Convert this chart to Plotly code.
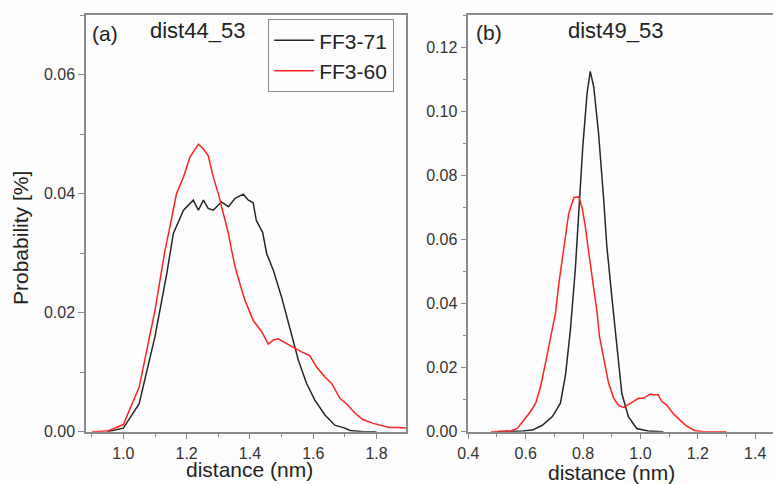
import plotly.graph_objects as go

# Panel (a) dist44_53
a_x_ff371 = [0.95, 1.0, 1.05, 1.10, 1.137, 1.158, 1.19, 1.221, 1.237, 1.253, 1.268, 1.284, 1.31, 1.332,
             1.353, 1.379, 1.395, 1.41, 1.42, 1.44, 1.453, 1.474, 1.50, 1.526, 1.553, 1.579, 1.605,
             1.637, 1.668, 1.70, 1.716, 1.76, 1.80]
a_y_ff371 = [0.0, 0.0006, 0.0047, 0.016, 0.0265, 0.0333, 0.0372, 0.0389, 0.0372, 0.0389, 0.0375, 0.0372,
             0.0386, 0.0378, 0.0392, 0.0399, 0.0389, 0.0385, 0.0355, 0.0335, 0.0299, 0.0271, 0.0226,
             0.0176, 0.012, 0.0081, 0.0053, 0.0028, 0.0011, 0.0006, 0.0002, 0.0, 0.0]

a_x_ff360 = [0.90, 0.95, 1.0, 1.05, 1.10, 1.13, 1.147, 1.168, 1.19, 1.21, 1.237, 1.253, 1.268, 1.284,
             1.30, 1.316, 1.332, 1.342, 1.353, 1.368, 1.384, 1.41, 1.437, 1.458, 1.474, 1.489, 1.516,
             1.542, 1.563, 1.589, 1.61, 1.637, 1.658, 1.684, 1.705, 1.732, 1.758, 1.789, 1.81, 1.84,
             1.87, 1.90]
a_y_ff360 = [0.0, 0.0001, 0.0012, 0.0075, 0.0204, 0.030, 0.0344, 0.040, 0.0428, 0.0461, 0.0483, 0.0475,
             0.0464, 0.0428, 0.040, 0.0366, 0.0333, 0.0305, 0.0277, 0.0249, 0.0221, 0.0187, 0.0168,
             0.0147, 0.0154, 0.0156, 0.0148, 0.014, 0.0134, 0.0128, 0.0109, 0.0092, 0.0081, 0.0056,
             0.0047, 0.0031, 0.002, 0.0014, 0.0011, 0.0007, 0.0007, 0.0006]

# Panel (b) dist49_53
b_x_ff371 = [0.50, 0.542, 0.589, 0.623, 0.658, 0.693, 0.721, 0.739, 0.756, 0.773, 0.779, 0.79, 0.799,
             0.814, 0.825, 0.837, 0.854, 0.872, 0.883, 0.90, 0.918, 0.935, 0.958, 0.987, 1.027, 1.08]
b_y_ff371 = [0.0, 0.0, 0.0002, 0.0005, 0.002, 0.0047, 0.0089, 0.0178, 0.0319, 0.0507, 0.060, 0.0754,
             0.0889, 0.1056, 0.1124, 0.1077, 0.0931, 0.0723, 0.0577, 0.0423, 0.0256, 0.012, 0.0047,
             0.001, 0.0002, 0.0]

b_x_ff360 = [0.479, 0.548, 0.571, 0.594, 0.617, 0.635, 0.652, 0.669, 0.687, 0.704, 0.716, 0.727, 0.736,
             0.75, 0.768, 0.785, 0.797, 0.808, 0.817, 0.834, 0.849, 0.857, 0.872, 0.889, 0.907, 0.924,
             0.941, 0.958, 0.975, 0.993, 1.01, 1.033, 1.045, 1.062, 1.074, 1.091, 1.114, 1.137, 1.16,
             1.19, 1.224, 1.30]
b_y_ff360 = [0.0, 0.0002, 0.001, 0.0037, 0.0063, 0.0089, 0.0141, 0.0214, 0.0298, 0.0371, 0.0465, 0.0538,
             0.060, 0.0681, 0.0731, 0.0733, 0.0697, 0.064, 0.0577, 0.0465, 0.0371, 0.0298, 0.0225,
             0.0151, 0.0104, 0.0081, 0.0076, 0.0084, 0.0094, 0.0104, 0.0104, 0.0117, 0.0115, 0.0115,
             0.0094, 0.0084, 0.0057, 0.0037, 0.0018, 0.0003, 0.0, 0.0]

series_names = ["FF3-71", "FF3-60"]
a_xticks = [1.0, 1.2, 1.4, 1.6, 1.8]
a_yticks = [0.00, 0.02, 0.04, 0.06]
b_xticks = [0.4, 0.6, 0.8, 1.0, 1.2, 1.4]
b_yticks = [0.00, 0.02, 0.04, 0.06, 0.08, 0.10, 0.12]

BLACK = "#262626"
RED = "#ff2020"
AXC = "#8a8a8a"
FONT = "Arial, Liberation Sans, sans-serif"

fig = go.Figure()
fig.add_trace(go.Scatter(x=a_x_ff371, y=a_y_ff371, mode="lines", name=series_names[0],
                         line=dict(color=BLACK, width=1.5), xaxis="x", yaxis="y"))
fig.add_trace(go.Scatter(x=a_x_ff360, y=a_y_ff360, mode="lines", name=series_names[1],
                         line=dict(color=RED, width=1.5), xaxis="x", yaxis="y"))
fig.add_trace(go.Scatter(x=b_x_ff371, y=b_y_ff371, mode="lines", showlegend=False,
                         line=dict(color=BLACK, width=1.5), xaxis="x2", yaxis="y2"))
fig.add_trace(go.Scatter(x=b_x_ff360, y=b_y_ff360, mode="lines", showlegend=False,
                         line=dict(color=RED, width=1.5), xaxis="x2", yaxis="y2"))

W, H = 773, 484
def fx(px): return px / W
def fy(py): return 1 - py / H

common = dict(showgrid=False, zeroline=False, showline=True, linecolor=AXC, linewidth=1.5,
              ticks="outside", ticklen=6, tickcolor=AXC, tickwidth=1.2, automargin=False,
              tickfont=dict(family=FONT, size=16, color="#333333"))
minor = dict(ticks="outside", ticklen=4, tickcolor=AXC, tickwidth=1.2)

fig.update_layout(
    template="none",
    width=W, height=H, margin=dict(l=0, r=0, t=0, b=0, pad=0),
    paper_bgcolor="#fdfdfd", plot_bgcolor="#fdfdfd",
    font=dict(family=FONT, color="#222222"),
    xaxis=dict(domain=[fx(86), fx(406)], range=[0.882, 1.893], anchor="y", mirror=True,
               tickvals=a_xticks, ticktext=["%.1f" % v for v in a_xticks],
               minor=dict(dtick=0.1, **minor), **common),
    yaxis=dict(domain=[fy(431.7), fy(15)], range=[0, 0.07], anchor="x", mirror=True,
               tickvals=a_yticks, ticktext=["%.2f" % v for v in a_yticks],
               minor=dict(dtick=0.01, **minor), **common),
    xaxis2=dict(domain=[fx(468.3), 1.0], range=[0.4, 1.462], anchor="y2", mirror=True,
                tickvals=b_xticks, ticktext=["%.1f" % v for v in b_xticks],
                minor=dict(dtick=0.1, **minor), **common),
    yaxis2=dict(domain=[fy(431.7), fy(15)], range=[0, 0.13], anchor="x2", mirror=False,
                tickvals=b_yticks, ticktext=["%.2f" % v for v in b_yticks],
                minor=dict(dtick=0.01, **minor), **common),
    legend=dict(x=fx(268), y=fy(19), xanchor="left", yanchor="top",
                bgcolor="rgba(0,0,0,0)", bordercolor=AXC, borderwidth=1.2,
                font=dict(family=FONT, size=21, color="#222222"),
                tracegroupgap=0, itemwidth=40),
)

def ann(text, x, y, size, xanchor="center", angle=0):
    fig.add_annotation(text=text, x=fx(x), y=fy(y), xref="paper", yref="paper",
                       showarrow=False, xanchor=xanchor, yanchor="middle", textangle=angle,
                       font=dict(family=FONT, size=size, color="#222222"))

ann("(a)", 90, 34, 21, xanchor="left")
ann("dist44_53", 197, 30, 22)
ann("(b)", 474, 33, 21, xanchor="left")
ann("dist49_53", 615, 31, 22)
ann("Probability [%]", 20, 238, 21, angle=-90)
ann("distance (nm)", 249, 469, 21)
ann("distance (nm)", 611, 472, 21)

fig.write_html("out.html", config={"displayModeBar": False},
               post_script="document.body.style.margin='0';")
